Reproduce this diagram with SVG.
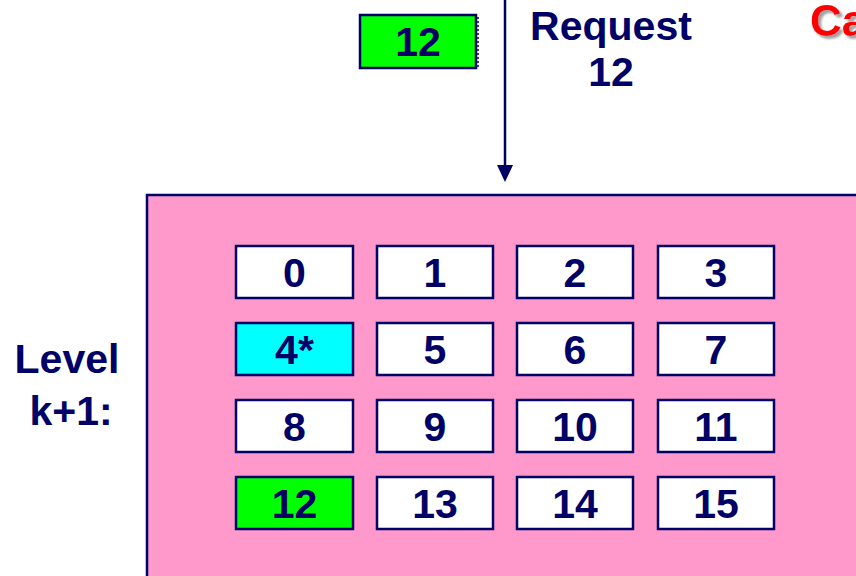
<svg xmlns="http://www.w3.org/2000/svg" width="856" height="576" viewBox="0 0 856 576">
  <defs>
    <filter id="shadow" x="-10%" y="-10%" width="130%" height="140%">
      <feDropShadow dx="3" dy="3" stdDeviation="0.8" flood-color="#999999" flood-opacity="0.9"/>
    </filter>
    <style>
      .t { font-family: "Liberation Sans", Arial, sans-serif; font-weight: bold; fill: #000066; }
      .num { font-size: 41px; text-anchor: middle; }
      .lbl { font-size: 41px; text-anchor: middle; }
      .box { stroke: #000066; stroke-width: 2.5; fill: #ffffff; }
      .green { fill: #00ff00; }
      .cyan { fill: #00ffff; }
    </style>
  </defs>
  <rect width="856" height="576" fill="#ffffff"/>

  <g id="title">
    <text x="810" y="36" font-family="Liberation Sans, Arial, sans-serif" font-weight="bold" font-size="44" fill="#ff0000" filter="url(#shadow)">Ca</text>
  </g>

  <g id="request-block">
    <rect x="360" y="15" width="116" height="53" fill="#00ff00" stroke="#000066" stroke-width="2.5"/>
    <line x1="478" y1="17" x2="478" y2="68" stroke="#000066" stroke-width="1.5" stroke-dasharray="2,2"/>
    <text class="t num" x="418" y="56">12</text>
  </g>

  <g id="connectors">
    <line x1="505" y1="0" x2="505" y2="167" stroke="#000066" stroke-width="2.5"/>
    <path d="M497,165 L513,165 L505,182 Z" fill="#000066"/>
  </g>

  <g id="request-label">
    <text class="t lbl" x="611" y="40">Request</text>
    <text class="t lbl" x="611" y="86">12</text>
  </g>

  <g id="level-label">
    <text class="t lbl" x="67" y="373">Level</text>
    <text class="t lbl" x="71" y="425">k+1:</text>
  </g>

  <g id="level">
    <rect x="147" y="195" width="720" height="400" fill="#ff99cc" stroke="#000066" stroke-width="2.5"/>
  </g>

  <g id="b0"><rect class="box" x="236" y="246" width="117" height="52"/><text class="t num" x="294.5" y="287">0</text></g>
  <g id="b1"><rect class="box" x="377" y="246" width="116" height="52"/><text class="t num" x="435" y="287">1</text></g>
  <g id="b2"><rect class="box" x="517" y="246" width="116" height="52"/><text class="t num" x="575" y="287">2</text></g>
  <g id="b3"><rect class="box" x="658" y="246" width="116" height="52"/><text class="t num" x="716" y="287">3</text></g>

  <g id="b4"><rect class="box cyan" x="236" y="323" width="117" height="52"/><text class="t num" x="294.5" y="364">4*</text></g>
  <g id="b5"><rect class="box" x="377" y="323" width="116" height="52"/><text class="t num" x="435" y="364">5</text></g>
  <g id="b6"><rect class="box" x="517" y="323" width="116" height="52"/><text class="t num" x="575" y="364">6</text></g>
  <g id="b7"><rect class="box" x="658" y="323" width="116" height="52"/><text class="t num" x="716" y="364">7</text></g>

  <g id="b8"><rect class="box" x="236" y="400" width="117" height="52"/><text class="t num" x="294.5" y="441">8</text></g>
  <g id="b9"><rect class="box" x="377" y="400" width="116" height="52"/><text class="t num" x="435" y="441">9</text></g>
  <g id="b10"><rect class="box" x="517" y="400" width="116" height="52"/><text class="t num" x="575" y="441">10</text></g>
  <g id="b11"><rect class="box" x="658" y="400" width="116" height="52"/><text class="t num" x="716" y="441">11</text></g>

  <g id="b12"><rect class="box green" x="236" y="477" width="117" height="52"/><text class="t num" x="294.5" y="518">12</text></g>
  <g id="b13"><rect class="box" x="377" y="477" width="116" height="52"/><text class="t num" x="435" y="518">13</text></g>
  <g id="b14"><rect class="box" x="517" y="477" width="116" height="52"/><text class="t num" x="575" y="518">14</text></g>
  <g id="b15"><rect class="box" x="658" y="477" width="116" height="52"/><text class="t num" x="716" y="518">15</text></g>
</svg>
